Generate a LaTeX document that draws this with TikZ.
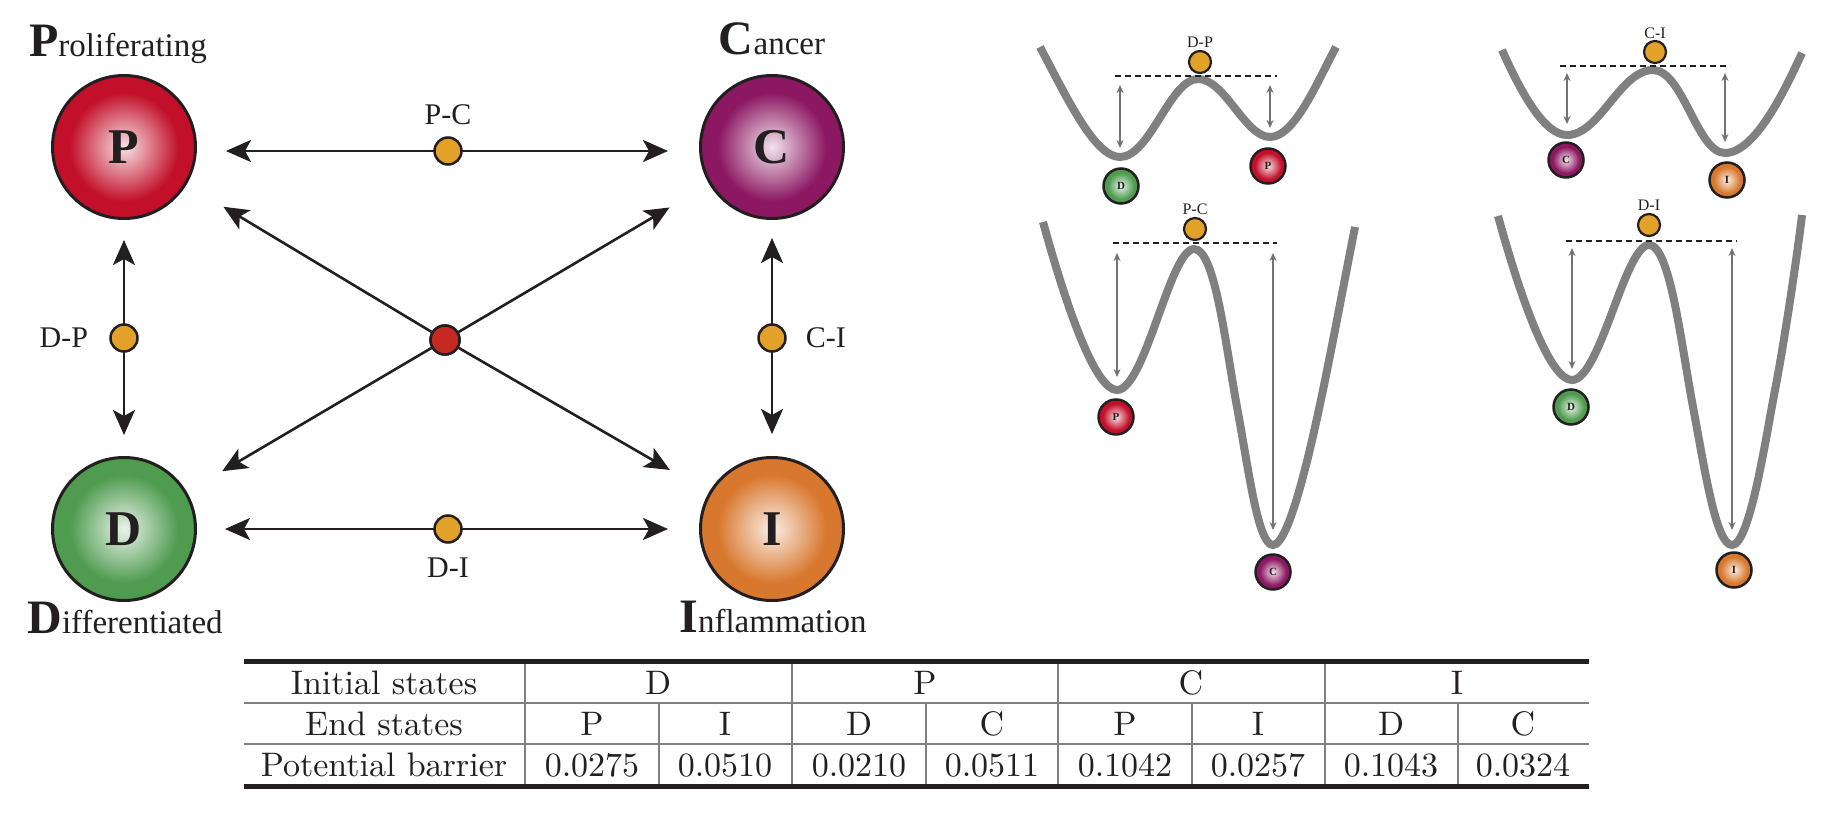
\documentclass[tikz,border=0pt]{standalone}
\usepackage{fontspec}
\newfontfamily\tnr{Liberation Serif}
\newfontfamily\tabfont{lmroman10-regular.otf}
\usepackage{tikz}
\usetikzlibrary{arrows.meta,positioning}
\definecolor{pred}{HTML}{C2102A}
\definecolor{cpurple}{HTML}{8C1862}
\definecolor{dgreen}{HTML}{4F9B50}
\definecolor{iorange}{HTML}{D8782E}
\definecolor{tsgold}{HTML}{E2A128}
\definecolor{hubred}{HTML}{C62822}
\definecolor{ink}{HTML}{231F20}
\definecolor{wellgray}{HTML}{808080}
\pgfdeclareradialshading{pshade}{\pgfpoint{0bp}{0bp}}{color(0bp)=(pred!12!white); color(19bp)=(pred); color(50bp)=(pred)}
\pgfdeclareradialshading{cshade}{\pgfpoint{0bp}{0bp}}{color(0bp)=(cpurple!12!white); color(19bp)=(cpurple); color(50bp)=(cpurple)}
\pgfdeclareradialshading{dshade}{\pgfpoint{0bp}{0bp}}{color(0bp)=(dgreen!12!white); color(19bp)=(dgreen); color(50bp)=(dgreen)}
\pgfdeclareradialshading{ishade}{\pgfpoint{0bp}{0bp}}{color(0bp)=(iorange!12!white); color(19bp)=(iorange); color(50bp)=(iorange)}

\begin{document}
\begin{tikzpicture}[x=1pt, y=-1pt,
  state/.style={circle, draw=ink, line width=3pt, minimum size=143pt, inner sep=0pt,
    font=\tnr\fontsize{50}{50}\selectfont\bfseries, text=ink},
  ball/.style={circle, draw=ink, line width=2.5pt, minimum size=35pt, inner sep=0pt,
    font=\tnr\fontsize{11}{11}\selectfont\bfseries, text=ink},
  pfill/.style={shade, shading=pshade},
  cfill/.style={shade, shading=cshade},
  dfill/.style={shade, shading=dshade},
  ifill/.style={shade, shading=ishade},
  tsdot/.style={circle, draw=ink, line width=2.5pt, fill=tsgold, minimum size=27pt, inner sep=0pt},
  tsball/.style={circle, draw=ink, line width=2.2pt, fill=tsgold, minimum size=22pt, inner sep=0pt},
  hub/.style={circle, draw=ink, line width=2.5pt, fill=hubred, minimum size=29pt, inner sep=0pt},
  title/.style={font=\tnr\fontsize{33}{33}\selectfont, text=ink, inner sep=0pt, anchor=base},
  elabel/.style={font=\tnr\fontsize{30}{30}\selectfont, text=ink, inner sep=0pt},
  wlabel/.style={font=\tnr\fontsize{16}{16}\selectfont, text=ink, inner sep=0pt},
  arr/.style={{Stealth[length=25pt,width=22pt,inset=6pt]}-{Stealth[length=25pt,width=22pt,inset=6pt]},
    line width=2.6pt, ink},
  arr1/.style={-{Stealth[length=25pt,width=22pt,inset=6pt]}, line width=2.6pt, ink},
  well/.style={draw=wellgray, line width=8pt},
  level/.style={draw=ink, line width=2pt, dash pattern=on 6pt off 4pt},
  gap/.style={{Stealth[length=8pt,width=7pt]}-{Stealth[length=8pt,width=7pt]},
    draw=wellgray!90!black, line width=2.2pt},
  tcell/.style={font=\tabfont\fontsize{34}{34}\selectfont, text=ink, inner sep=0pt, anchor=base},
  thickrule/.style={line width=5pt, ink},
  tline/.style={line width=1.5pt, draw=gray},
]
  \fill[white] (0,0) rectangle (1838,824);
  \useasboundingbox (0,0) rectangle (1838,824);

  \node[state, pfill] (P) at (124,147) {P};
  \node[state, cfill] (C) at (772,147) {C};
  \node[state, dfill] (D) at (124,529) {D};
  \node[state, ifill] (I) at (772,529) {I};

  \node[title] (tP) at (118,57) {{\fontsize{48}{48}\selectfont\bfseries P}roliferating};
  \node[title] (tC) at (772,55) {{\fontsize{48}{48}\selectfont\bfseries C}ancer};
  \node[title] (tD) at (125,633) {{\fontsize{48}{48}\selectfont\bfseries D}ifferentiated};
  \node[title] (tI) at (773,632) {{\fontsize{48}{48}\selectfont\bfseries I}nflammation};

  \node[hub] (x) at (445,340) {};
  \draw[arr1, shorten >=43pt] (x) -- (P);
  \draw[arr1, shorten >=46pt] (x) -- (C);
  \draw[arr1, shorten >=41pt] (x) -- (D);
  \draw[arr1, shorten >=45pt] (x) -- (I);
  \node[hub] (x) at (445,340) {};

  \draw[arr, shorten <=29pt, shorten >=31pt] ([yshift=-4pt]P.east) -- node[tsdot] (pc) {} ([yshift=-4pt]C.west);
  \draw[arr, shorten <=28pt, shorten >=31pt] (D) -- node[tsdot] (di) {} (I);
  \draw[arr, shorten <=20pt, shorten >=21pt] (P) -- node[tsdot] (dp) {} (D);
  \draw[arr, shorten <=18pt, shorten >=22pt] (C) -- node[tsdot] (ci) {} (I);

  \node[elabel, above=11pt of pc] (lpc) {P-C};
  \node[elabel, below=14pt of di] (ldi) {D-I};
  \node[elabel, left=21pt of dp] (ldp) {D-P};
  \node[elabel, right=19pt of ci] (lci) {C-I};

  \draw[well] (1040,47) .. controls (1068,100) and (1095,157) .. (1120,157)
    .. controls (1150,157) and (1170,79) .. (1198,79)
    .. controls (1225,79) and (1245,137) .. (1270,137)
    .. controls (1295,137) and (1318,80) .. (1336,47);
  \draw[level] (1115,76) -- (1277,76);
  \draw[gap] (1120,85) -- (1120,148);
  \draw[gap] (1270,85) -- (1270,128);
  \node[tsball] (w1) at (1200,62) {};
  \node[wlabel] (lw1) at (1200,42) {D-P};
  \node[ball, dfill] (w1d) at (1121,186) {D};
  \node[ball, pfill] (w1p) at (1268,166) {P};

  \draw[well] (1502,50) .. controls (1522,95) and (1545,135) .. (1567,135)
    .. controls (1600,135) and (1620,70) .. (1653,70)
    .. controls (1683,70) and (1697,153) .. (1725,153)
    .. controls (1755,153) and (1785,90) .. (1802,53);
  \draw[level] (1560,66) -- (1730,66);
  \draw[gap] (1567,73) -- (1567,124);
  \draw[gap] (1725,73) -- (1725,142);
  \node[tsball] (w2) at (1655,52) {};
  \node[wlabel] (lw2) at (1655,33) {C-I};
  \node[ball, cfill] (w2c) at (1566,160) {C};
  \node[ball, ifill] (w2i) at (1727,180) {I};

  \draw[well] (1043,222) .. controls (1070,320) and (1097,390) .. (1117,390)
    .. controls (1145,390) and (1170,249) .. (1194,249)
    .. controls (1215,249) and (1225,342) .. (1237,407)
    .. controls (1249,472) and (1258,545) .. (1273,545)
    .. controls (1290,545) and (1313,438) .. (1323,390)
    .. controls (1333,342) and (1348,262) .. (1355,227);
  \draw[level] (1113,243) -- (1277,243);
  \draw[gap] (1117,253) -- (1117,377);
  \draw[gap] (1273,253) -- (1273,530);
  \node[tsball] (w3) at (1195,229) {};
  \node[wlabel] (lw3) at (1195,209) {P-C};
  \node[ball, pfill] (w3p) at (1116,417) {P};
  \node[ball, cfill] (w3c) at (1273,572) {C};

  \draw[well] (1498,216) .. controls (1525,314) and (1552,380) .. (1572,380)
    .. controls (1600,380) and (1625,245) .. (1649,245)
    .. controls (1670,245) and (1681,343) .. (1693,407)
    .. controls (1705,471) and (1716,545) .. (1732,545)
    .. controls (1750,545) and (1766,436) .. (1775,390)
    .. controls (1784,344) and (1798,250) .. (1802,215);
  \draw[level] (1566,241) -- (1737,241);
  \draw[gap] (1572,248) -- (1572,369);
  \draw[gap] (1732,248) -- (1732,530);
  \node[tsball] (w4) at (1649,225) {};
  \node[wlabel] (lw4) at (1649,205) {D-I};
  \node[ball, dfill] (w4d) at (1571,407) {D};
  \node[ball, ifill] (w4i) at (1734,570) {I};

  \draw[tline] (244,703) -- (1589,703);
  \draw[tline] (244,744) -- (1589,744);
  \draw[tline] (525,663) -- (525,784);
  \draw[tline] (792,663) -- (792,784);
  \draw[tline] (1058,663) -- (1058,784);
  \draw[tline] (1325,663) -- (1325,784);
  \draw[tline] (659,703) -- (659,784);
  \draw[tline] (926,703) -- (926,784);
  \draw[tline] (1192,703) -- (1192,784);
  \draw[tline] (1458,703) -- (1458,784);
  \draw[thickrule] (244,661) -- (1589,661);
  \draw[thickrule] (244,786) -- (1589,786);

  \node[tcell] (r1) at (384,694) {Initial states};
  \node[tcell] (r2) at (384,735) {End states};
  \node[tcell] (r3) at (384,776) {Potential barrier};

  \node[tcell] (h1) at (658,694) {D};
  \node[tcell] (h2) at (925,694) {P};
  \node[tcell] (h3) at (1191,694) {C};
  \node[tcell] (h4) at (1457,694) {I};

  \node[tcell] (e1) at (592,735) {P};
  \node[tcell] (e2) at (725,735) {I};
  \node[tcell] (e3) at (859,735) {D};
  \node[tcell] (e4) at (992,735) {C};
  \node[tcell] (e5) at (1125,735) {P};
  \node[tcell] (e6) at (1258,735) {I};
  \node[tcell] (e7) at (1391,735) {D};
  \node[tcell] (e8) at (1523,735) {C};

  \node[tcell] (v1) at (592,776) {0.0275};
  \node[tcell] (v2) at (725,776) {0.0510};
  \node[tcell] (v3) at (859,776) {0.0210};
  \node[tcell] (v4) at (992,776) {0.0511};
  \node[tcell] (v5) at (1125,776) {0.1042};
  \node[tcell] (v6) at (1258,776) {0.0257};
  \node[tcell] (v7) at (1391,776) {0.1043};
  \node[tcell] (v8) at (1523,776) {0.0324};
\end{tikzpicture}
\end{document}
